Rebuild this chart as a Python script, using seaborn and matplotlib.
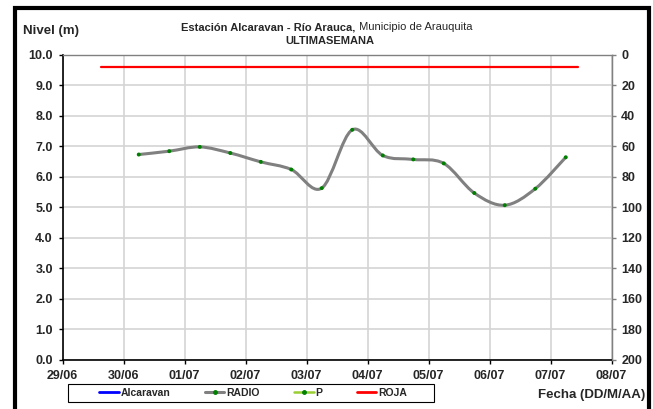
import matplotlib
matplotlib.use("Agg")
import matplotlib.pyplot as plt
import matplotlib.dates as mdates
from matplotlib.path import Path
from matplotlib.patches import PathPatch, Rectangle
from matplotlib.lines import Line2D
from matplotlib.ticker import FormatStrFormatter, MultipleLocator
import seaborn as sns
import pandas as pd
import numpy as np

# datos
fechas = pd.date_range("2025-06-30 06:00", periods=15, freq="12h")
radio = [6.73, 6.84, 6.98, 6.78, 6.49, 6.24, 5.63, 7.54, 6.70, 6.57, 6.44, 5.47, 5.07, 5.61, 6.64]
roja_fechas = pd.to_datetime(["2025-06-29 15:00", "2025-07-07 11:00"])
roja = [9.6, 9.6]
dias = pd.date_range("2025-06-29", "2025-07-08", freq="D")

sns.set_style("white")
plt.rcParams["font.family"] = ["Liberation Sans", "DejaVu Sans"]

W, H = 653, 409
fig = plt.figure(figsize=(W / 100, H / 100), dpi=100, facecolor="w")
ax = fig.add_axes([62.5 / W, 1 - 360 / H, (611.5 - 62.5) / W, (360 - 54.7) / H])

# linea ROJA
sns.lineplot(x=roja_fechas, y=roja, ax=ax, color="red", lw=1.6, zorder=3)

# linea RADIO suavizada (bezier tipo Excel)
xs = mdates.date2num(fechas)
ys = np.array(radio)
pts = np.column_stack([xs, ys])
n = len(pts)
verts = [pts[0]]
codes = [Path.MOVETO]
for i in range(n - 1):
    p_prev = pts[i - 1] if i > 0 else pts[i]
    p_next2 = pts[i + 2] if i + 2 < n else pts[i + 1]
    c1 = pts[i] + (pts[i + 1] - p_prev) / 6
    c2 = pts[i + 1] - (p_next2 - pts[i]) / 6
    verts += [c1, c2, pts[i + 1]]
    codes += [Path.CURVE4] * 3
ax.add_patch(PathPatch(Path(verts, codes), fill=False, ec="#808080", lw=2.2,
                       zorder=3, capstyle="round"))

# puntos P
sns.scatterplot(x=fechas, y=radio, ax=ax, color="green", s=8, edgecolor="none",
                zorder=4, legend=False)

ax.set_xlim(dias[0], dias[-1])
ax.set_xticks(dias)
ax.xaxis.set_major_formatter(mdates.DateFormatter("%d/%m"))
ax.set_ylim(0, 10)
ax.yaxis.set_major_locator(MultipleLocator(1))
ax.yaxis.set_major_formatter(FormatStrFormatter("%.1f"))
ax.set_xlabel("")
ax.set_ylabel("")
ax.grid(True, color="#d4d4d4", lw=1.2)
ax.set_axisbelow(True)
ax.tick_params(axis="both", direction="out", length=3, width=1, labelsize=9, color="black")
ax.tick_params(axis="x", pad=4)
ax.tick_params(axis="y", pad=4, left=True)
ax.tick_params(axis="x", bottom=True)
for lab in ax.get_xticklabels() + ax.get_yticklabels():
    lab.set_fontweight("bold")
for s in ["left", "bottom"]:
    ax.spines[s].set_color("black")
    ax.spines[s].set_linewidth(1.2)
for s in ["top", "right"]:
    ax.spines[s].set_color("#808080")
    ax.spines[s].set_linewidth(1.0)

# eje derecho
ax2 = ax.twinx()
ax2.set_ylim(200, 0)
ax2.set_yticks(range(0, 201, 20))
ax2.tick_params(axis="y", direction="out", length=3, width=1, labelsize=9, pad=4,
                right=True, color="#808080")
for lab in ax2.get_yticklabels():
    lab.set_fontweight("bold")
ax2.spines["right"].set_color("#808080")
for s in ["left", "bottom", "top"]:
    ax2.spines[s].set_visible(False)
ax2.grid(False)

# titulos
fig.text(355 / W, 1 - 27 / H, "Estación Alcaravan - Río Arauca,", ha="right", va="center",
         fontsize=8, fontweight="bold")
fig.text(356 / W, 1 - 27 / H, " Municipio de Arauquita", ha="left", va="center", fontsize=8)
fig.text(330 / W, 1 - 41 / H, "ULTIMASEMANA", ha="center", va="center", fontsize=8,
         fontweight="bold")
fig.text(23 / W, 1 - 31 / H, "Nivel (m)", ha="left", va="center", fontsize=9.5,
         fontweight="bold")
fig.text(645 / W, 1 - 395 / H, "Fecha (DD/M/AA)", ha="right", va="center", fontsize=9.5,
         fontweight="bold")

# leyenda
handles = [
    Line2D([], [], color="blue", lw=2, label="Alcaravan"),
    Line2D([], [], color="#808080", lw=2.2, marker="o", ms=2.5, mfc="green", mec="green",
           label="RADIO"),
    Line2D([], [], color="#9acd32", lw=1.8, marker="o", ms=2.5, mfc="green", mec="green",
           label="P"),
    Line2D([], [], color="red", lw=2, label="ROJA"),
]
fig.legend(handles=handles, ncol=4, loc="center", bbox_to_anchor=(253 / W, 1 - 393 / H),
           frameon=False, prop={"size": 7.5, "weight": "bold"}, handlelength=1.9,
           handletextpad=0.15, columnspacing=3.3)
fig.add_artist(Rectangle((68 / W, 1 - 402 / H), 366 / W, 18 / H, transform=fig.transFigure,
                         fill=False, ec="black", lw=0.8))

# marco negro
fig.add_artist(Rectangle((14.5 / W, -0.1), (648.5 - 14.5) / W, 1 - 8.5 / H + 0.1,
                         transform=fig.transFigure, fill=False, ec="black", lw=3,
                         clip_on=False))

fig.savefig("out.png", dpi=100)
